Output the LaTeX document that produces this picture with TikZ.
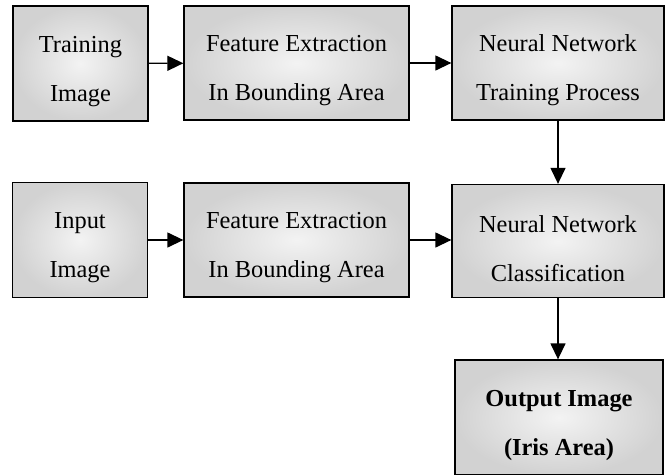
\documentclass[tikz,border=0pt]{standalone}
\usepackage{fontspec}
\setmainfont{Liberation Serif}
\usetikzlibrary{arrows.meta,positioning}
\definecolor{boxin}{RGB}{243,243,243}
\definecolor{boxout}{RGB}{210,210,210}
% two centred lines, pushed a little below the middle of the box
\newcommand{\twolines}[2]{\rule{0pt}{32pt}#1\\#2}

\begin{document}
\begin{tikzpicture}[x=1pt,y=-1pt]
	\tikzstyle{every node}=[font=\fontsize{24.4}{49}\selectfont]
	\tikzstyle{blk}=[draw, line width=1.3pt, align=center, inner sep=0pt, inner color=boxin, outer color=boxout]
	\tikzstyle{flow}=[line width=1.3pt, -{Triangle[length=16pt,width=15pt]}]
	\useasboundingbox (0,0) rectangle (668,474);
	% training branch
	\node[blk, minimum width=135pt, minimum height=115pt] (train) at (80.5,63.5) {\twolines{Training}{Image}};
	\node[blk, minimum width=225pt, minimum height=114pt] (featA) at (296.5,63) {\twolines{Feature Extraction}{In Bounding Area}};
	\node[blk, minimum width=212pt, minimum height=114pt] (nntrain) at (558,63) {\twolines{Neural Network}{Training Process}};
	% test branch
	\node[blk, minimum width=135pt, minimum height=115pt] (input) at (80,240) {\twolines{Input}{Image}};
	\node[blk, minimum width=225pt, minimum height=114pt] (featB) at (296.5,240) {\twolines{Feature Extraction}{In Bounding Area}};
	\node[blk, minimum width=212pt, minimum height=113pt] (nnclass) at (558,241) {\twolines{Neural Network}{Classification}};
	\node[blk, minimum width=208pt, minimum height=115pt, font=\fontsize{24.4}{49}\selectfont\bfseries] (output) at (559,417.5) {\twolines{Output Image}{(Iris Area)}};
	% arrows
	\draw[flow] (train) -- (featA);
	\draw[flow] (featA) -- (nntrain);
	\draw[flow] (nntrain) -- (nnclass);
	\draw[flow] (input) -- (featB);
	\draw[flow] (featB) -- (featB.east -| nnclass.west);
	\draw[flow] (nnclass.south) -- (nnclass.south |- output.north);
\end{tikzpicture}
\end{document}
